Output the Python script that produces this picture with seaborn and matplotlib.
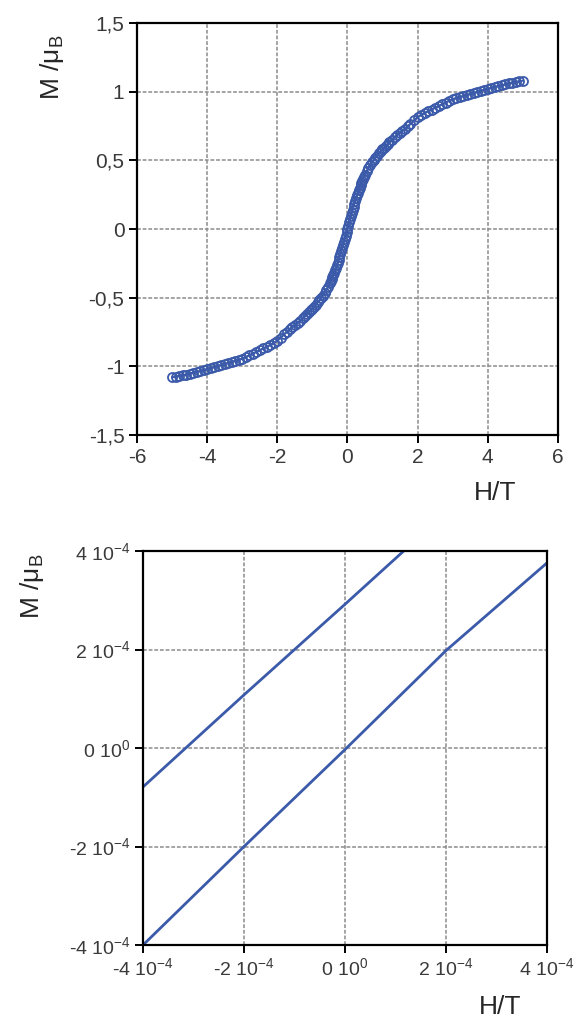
import matplotlib
matplotlib.use("Agg")
import matplotlib.pyplot as plt
import seaborn as sns

# --- DATA ---
# top panel: magnetisation, up sweep
field_up = [-5.0, -4.8, -4.6, -4.4, -4.2, -4.0, -3.8, -3.6, -3.4, -3.2,
            -3.0, -2.8, -2.6, -2.4, -2.2, -2.0, -1.8, -1.65, -1.5, -1.35,
            -1.2, -1.1, -1.0, -0.9, -0.8, -0.7, -0.6, -0.5, -0.45, -0.4,
            -0.35, -0.3, -0.25, -0.2, -0.15, -0.1, -0.05, 0.0,
            0.05, 0.1, 0.15, 0.2, 0.25, 0.3, 0.35, 0.4, 0.45, 0.5,
            0.6, 0.7, 0.8, 0.9, 1.0, 1.1, 1.2, 1.35, 1.5, 1.65,
            1.8, 2.0, 2.2, 2.4, 2.6, 2.8, 3.0, 3.2, 3.4, 3.6,
            3.8, 4.0, 4.2, 4.4, 4.6, 4.8, 5.0]
moment_up = [-1.08, -1.07, -1.06, -1.045, -1.035, -1.02, -1.005, -0.99, -0.975, -0.96,
             -0.945, -0.92, -0.895, -0.87, -0.845, -0.815, -0.765, -0.73, -0.70, -0.67,
             -0.63, -0.605, -0.58, -0.55, -0.52, -0.485, -0.445, -0.395, -0.365, -0.335,
             -0.30, -0.265, -0.225, -0.185, -0.14, -0.095, -0.05, 0.0,
             0.05, 0.095, 0.14, 0.185, 0.225, 0.265, 0.30, 0.335, 0.365, 0.395,
             0.445, 0.485, 0.52, 0.55, 0.58, 0.605, 0.63, 0.67, 0.70, 0.73,
             0.765, 0.815, 0.845, 0.87, 0.895, 0.92, 0.945, 0.96, 0.975, 0.99,
             1.005, 1.02, 1.035, 1.045, 1.06, 1.07, 1.08]

# top panel: magnetisation, down sweep
field_down = [4.9, 4.7, 4.5, 4.3, 4.1, 3.9, 3.7, 3.5, 3.3, 3.1,
              2.9, 2.7, 2.5, 2.3, 2.1, 1.9, 1.72, 1.57, 1.42, 1.27,
              1.15, 1.05, 0.95, 0.85, 0.75, 0.65, 0.55, 0.475, 0.425, 0.375,
              0.325, 0.275, 0.225, 0.175, 0.125, 0.075, 0.025,
              -0.025, -0.075, -0.125, -0.175, -0.225, -0.275, -0.325, -0.375,
              -0.425, -0.475, -0.55, -0.65, -0.75, -0.85, -0.95, -1.05, -1.15,
              -1.27, -1.42, -1.57, -1.72, -1.9, -2.1, -2.3, -2.5, -2.7, -2.9,
              -3.1, -3.3, -3.5, -3.7, -3.9, -4.1, -4.3, -4.5, -4.7, -4.9]
moment_down = [1.075, 1.065, 1.053, 1.04, 1.028, 1.013, 0.998, 0.983, 0.968, 0.953,
               0.933, 0.908, 0.883, 0.858, 0.83, 0.79, 0.748, 0.715, 0.685, 0.65,
               0.618, 0.593, 0.565, 0.535, 0.503, 0.465, 0.42, 0.38, 0.35, 0.318,
               0.283, 0.245, 0.205, 0.163, 0.118, 0.073, 0.025,
               -0.025, -0.073, -0.118, -0.163, -0.205, -0.245, -0.283, -0.318,
               -0.35, -0.38, -0.42, -0.465, -0.503, -0.535, -0.565, -0.593, -0.618,
               -0.65, -0.685, -0.715, -0.748, -0.79, -0.83, -0.858, -0.883, -0.908, -0.933,
               -0.953, -0.968, -0.983, -0.998, -1.013, -1.028, -1.04, -1.053, -1.065, -1.075]

# bottom panel: close-up around zero field, two branches
zoom_field = [-4e-4, -2e-4, 0.0, 2e-4, 4e-4]
lower_branch = [-4e-4, -2e-4, -0.03e-4, 1.98e-4, 3.76e-4]
upper_branch = [-0.79e-4, 1.08e-4, 2.92e-4, 4.78e-4, 6.6e-4]

top_xticks = [-6, -4, -2, 0, 2, 4, 6]
top_yticks = [-1.5, -1, -0.5, 0, 0.5, 1, 1.5]
top_yticklabels = ["-1,5", "-1", "-0,5", "0", "0,5", "1", "1,5"]
zoom_ticks = [-4e-4, -2e-4, 0.0, 2e-4, 4e-4]
zoom_ticklabels = [r"-4 10$^{-4}$", r"-2 10$^{-4}$", r"0 10$^{0}$",
                   r"2 10$^{-4}$", r"4 10$^{-4}$"]

BLUE = "#3b5aa9"
GRID = "#8c8c8c"


def style_axes(ax, label_size):
    ax.set_axisbelow(True)
    ax.grid(True, color=GRID, linestyle=(0, (2.5, 1.2)), linewidth=1.1)
    for side in ["left", "right", "top", "bottom"]:
        ax.spines[side].set_visible(True)
        ax.spines[side].set_color("black")
        ax.spines[side].set_linewidth(1.6)
    ax.tick_params(axis="both", which="major", direction="out", length=6,
                   width=1.4, color="black", labelcolor="#3a3a3a",
                   labelsize=label_size, pad=3, left=True, bottom=True,
                   top=False, right=False)


def main():
    sns.set_style("white")
    plt.rcParams["font.family"] = ["Liberation Sans", "DejaVu Sans"]
    plt.rcParams["mathtext.fontset"] = "custom"
    plt.rcParams["mathtext.rm"] = "Liberation Sans"
    plt.rcParams["mathtext.it"] = "Liberation Sans:italic"
    plt.rcParams["mathtext.default"] = "regular"

    fig = plt.figure(figsize=(5.78, 10.26), dpi=100)
    ax1 = fig.add_axes([0.237, 0.576, 0.728, 0.4016])
    ax2 = fig.add_axes([0.2474, 0.0789, 0.699, 0.384])

    # top panel: open circles along both sweeps
    for h, m in [(field_up, moment_up), (field_down, moment_down)]:
        sns.lineplot(x=h, y=m, ax=ax1, color=BLUE, linewidth=1.4,
                     marker="o", markersize=6.5, markerfacecolor="none",
                     markeredgecolor=BLUE, markeredgewidth=1.3, sort=False)
    ax1.set_xlim(-6, 6)
    ax1.set_ylim(-1.5, 1.5)
    ax1.set_xticks(top_xticks)
    ax1.set_xticklabels([str(t) for t in top_xticks])
    ax1.set_yticks(top_yticks)
    ax1.set_yticklabels(top_yticklabels)
    style_axes(ax1, 15)
    ax1.set_xlabel("H/T", fontsize=19, va="center")
    ax1.xaxis.set_label_coords(0.850, -0.141)
    ax1.set_ylabel(r"M /μ$_{B}$", fontsize=19, va="center")
    ax1.yaxis.set_label_coords(-0.203, 0.893)

    # bottom panel: two straight branches
    sns.lineplot(x=zoom_field, y=lower_branch, ax=ax2, color=BLUE, linewidth=2)
    sns.lineplot(x=zoom_field, y=upper_branch, ax=ax2, color=BLUE, linewidth=2)
    ax2.set_xlim(-4e-4, 4e-4)
    ax2.set_ylim(-4e-4, 4e-4)
    ax2.set_xticks(zoom_ticks)
    ax2.set_xticklabels(zoom_ticklabels)
    ax2.set_yticks(zoom_ticks)
    ax2.set_yticklabels(zoom_ticklabels)
    style_axes(ax2, 14)
    ax2.set_xlabel("H/T", fontsize=19, va="center")
    ax2.xaxis.set_label_coords(0.884, -0.157)
    ax2.set_ylabel(r"M /μ$_{B}$", fontsize=19, va="center")
    ax2.yaxis.set_label_coords(-0.2735, 0.911)

    plt.savefig("out.png", dpi=100)


if __name__ == "__main__":
    main()
